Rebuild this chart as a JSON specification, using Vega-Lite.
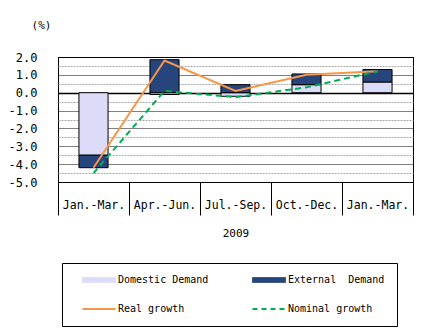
{
  "$schema": "https://vega.github.io/schema/vega-lite/v6.json",
  "width": 355,
  "height": 125,
  "autosize": "none",
  "padding": {"left": 58, "top": 57, "right": 24, "bottom": 153},
  "background": "white",
  "config": {
    "font": "DejaVu Sans Mono",
    "view": {"stroke": "black", "strokeWidth": 1}
  },
  "datasets": {
    "bars": [
      {"q": "2009 Jan.-Mar.", "series": "Domestic Demand", "value": -3.5},
      {"q": "2009 Apr.-Jun.", "series": "Domestic Demand", "value": -0.1},
      {"q": "2009 Jul.-Sep.", "series": "Domestic Demand", "value": -0.2},
      {"q": "2009 Oct.-Dec.", "series": "Domestic Demand", "value": 0.45},
      {"q": "2010 Jan.-Mar.", "series": "Domestic Demand", "value": 0.6},
      {"q": "2009 Jan.-Mar.", "series": "External\u00a0 Demand", "value": -0.7},
      {"q": "2009 Apr.-Jun.", "series": "External\u00a0 Demand", "value": 1.85},
      {"q": "2009 Jul.-Sep.", "series": "External\u00a0 Demand", "value": 0.45},
      {"q": "2009 Oct.-Dec.", "series": "External\u00a0 Demand", "value": 0.6},
      {"q": "2010 Jan.-Mar.", "series": "External\u00a0 Demand", "value": 0.7}
    ],
    "lines": [
      {"q": "2009 Jan.-Mar.", "series": "Real growth", "value": -4.2},
      {"q": "2009 Apr.-Jun.", "series": "Real growth", "value": 1.8},
      {"q": "2009 Jul.-Sep.", "series": "Real growth", "value": 0.1},
      {"q": "2009 Oct.-Dec.", "series": "Real growth", "value": 1.0},
      {"q": "2010 Jan.-Mar.", "series": "Real growth", "value": 1.2},
      {"q": "2009 Jan.-Mar.", "series": "Nominal growth", "value": -4.5},
      {"q": "2009 Apr.-Jun.", "series": "Nominal growth", "value": 0.1},
      {"q": "2009 Jul.-Sep.", "series": "Nominal growth", "value": -0.25},
      {"q": "2009 Oct.-Dec.", "series": "Nominal growth", "value": 0.3},
      {"q": "2010 Jan.-Mar.", "series": "Nominal growth", "value": 1.2}
    ],
    "inner": [
      {"q": "2009 Apr.-Jun."},
      {"q": "2009 Jul.-Sep."},
      {"q": "2009 Oct.-Dec."},
      {"q": "2010 Jan.-Mar."}
    ]
  },
  "encoding": {
    "x": {
      "field": "q", "type": "nominal",
      "scale": {"domain": ["2009 Jan.-Mar.", "2009 Apr.-Jun.", "2009 Jul.-Sep.", "2009 Oct.-Dec.", "2010 Jan.-Mar."], "paddingInner": 0, "paddingOuter": 0},
      "axis": {
        "title": "2009", "domain": false, "tickBand": "extent", "tickSize": 33, "tickColor": "black", "tickWidth": 1,
        "labelExpr": "datum.value ? substring(datum.value, 5) : ''", "labelAngle": 0, "labelFontSize": 11.5, "labelColor": "black",
        "labelPadding": -16, "labelBaseline": "top", "labelOverlap": false,
        "titleFontSize": 11, "titleFontWeight": "normal", "titlePadding": 12, "titleColor": "black"
      }
    },
    "y": {
      "field": "value", "type": "quantitative", "stack": "zero",
      "scale": {"domain": [-5, 2], "nice": false},
      "axis": {
        "values": [-5, -4.5, -4, -3.5, -3, -2.5, -2, -1.5, -1, -0.5, 0, 0.5, 1, 1.5, 2],
        "labelExpr": "datum.value % 1 === 0 ? replace(format(datum.value, '.1f'), '\u2212', '-') : ''",
        "labelOverlap": false,
        "grid": true,
        "gridColor": {"condition": {"test": "datum.value % 1 !== 0", "value": "#a8a8a8"}, "value": "black"},
        "gridDash": {"condition": [{"test": "datum.value === 0", "value": []}, {"test": "datum.value % 1 !== 0", "value": [2, 1]}], "value": [1, 1]},
        "gridWidth": {"condition": {"test": "datum.value === 0", "value": 1.5}, "value": 1},
        "gridOpacity": 1,
        "ticks": false, "domain": false, "labelPadding": 21, "labelFontSize": 12, "labelColor": "black",
        "title": "(%)", "titleAngle": 0, "titleX": -17, "titleY": -32, "titleAlign": "center", "titleBaseline": "middle",
        "titleFontSize": 11, "titleFontWeight": "normal", "titleColor": "black"
      }
    },
    "color": {
      "field": "series", "type": "nominal",
      "scale": {"domain": ["Domestic Demand", "External\u00a0 Demand", "Real growth", "Nominal growth"], "range": ["#dcdcf8", "#27457d", "#f79646", "#00b050"]},
      "legend": {
        "orient": "none", "legendX": 4, "legendY": 206, "columns": 2, "direction": "horizontal", "title": null,
        "strokeColor": "black", "fillColor": "white", "padding": 12, "columnPadding": 29, "rowPadding": 19,
        "labelFontSize": 10, "labelColor": "black", "labelFont": "DejaVu Sans Mono", "labelOffset": 14, "symbolOffset": 20,
        "symbolSize": 1089, "gridAlign": "all",
        "encode": {
          "symbols": {
            "update": {
              "shape": {"signal": "datum.value == 'Real growth' || datum.value == 'Nominal growth' ? 'stroke' : 'M-1,-0.15H1V0.15H-1Z'"},
              "strokeWidth": {"signal": "datum.value == 'Real growth' || datum.value == 'Nominal growth' ? 2 : 1"},
              "strokeDash": {"signal": "datum.value == 'Nominal growth' ? [5, 4] : [1, 0]"},
              "opacity": {"value": 1}
            }
          }
        }
      }
    }
  },
  "layer": [
    {
      "data": {"name": "bars"},
      "mark": {"type": "bar", "stroke": "black", "strokeWidth": 1, "width": {"band": 0.41}},
      "encoding": {
        "order": {"field": "series", "sort": "ascending"}
      }
    },
    {
      "data": {"name": "inner"},
      "mark": {"type": "rule", "strokeWidth": 1},
      "encoding": {
        "x": {"field": "q", "type": "nominal", "bandPosition": 0},
        "y": {"datum": 0},
        "y2": {"datum": 0.28},
        "color": {"value": "black"}
      }
    },
    {
      "data": {"values": [{"q": "2009 Jan.-Mar."}]},
      "mark": {"type": "rule", "strokeWidth": 1},
      "encoding": {
        "x": {"field": "q", "type": "nominal", "bandPosition": 0},
        "y": {"datum": -5},
        "y2": {"datum": -8.7},
        "color": {"value": "black"}
      }
    },
    {
      "data": {"values": [{"q": "2010 Jan.-Mar."}]},
      "mark": {"type": "rule", "strokeWidth": 1},
      "encoding": {
        "x": {"field": "q", "type": "nominal", "bandPosition": 1},
        "y": {"datum": -5},
        "y2": {"datum": -8.7},
        "color": {"value": "black"}
      }
    },
    {
      "data": {"name": "lines"},
      "transform": [{"filter": "datum.series == 'Real growth'"}],
      "mark": {"type": "line", "strokeWidth": 2}
    },
    {
      "data": {"name": "lines"},
      "transform": [{"filter": "datum.series == 'Nominal growth'"}],
      "mark": {"type": "line", "strokeWidth": 2, "strokeDash": [6, 4]}
    }
  ]
}
